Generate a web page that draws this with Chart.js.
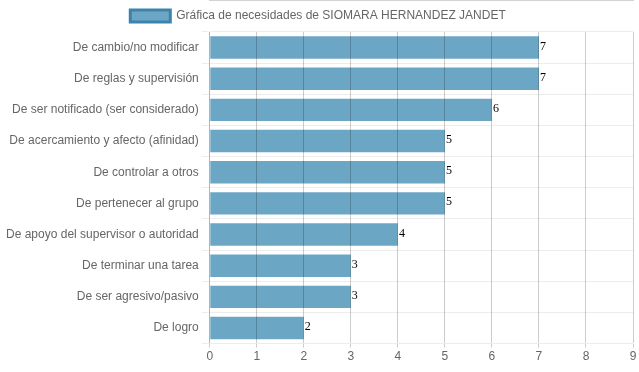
<!DOCTYPE html>
<html>
<head>
<meta charset="utf-8">
<script src="https://cdn.jsdelivr.net/npm/chart.js@4.4.0/dist/chart.umd.min.js"></script>
<style>
  html, body { margin: 0; padding: 0; background: #fff; }
  #wrap { width: 639px; height: 372px; }
</style>
</head>
<body>
<div id="wrap"><canvas id="needsChart" width="639" height="372"></canvas></div>
<script>
const categories = [
    'De cambio/no modificar',
    'De reglas y supervisión',
    'De ser notificado (ser considerado)',
    'De acercamiento y afecto (afinidad)',
    'De controlar a otros',
    'De pertenecer al grupo',
    'De apoyo del supervisor o autoridad',
    'De terminar una tarea',
    'De ser agresivo/pasivo',
    'De logro'
];
const needValues = [7, 7, 6, 5, 5, 5, 4, 3, 3, 2];
const seriesLabel = 'Gráfica de necesidades de SIOMARA HERNANDEZ JANDET';
const xTicks = [0, 1, 2, 3, 4, 5, 6, 7, 8, 9];

// draws the number at the end of each bar
const valueLabels = {
    id: 'valueLabels',
    afterDatasetsDraw: function(chart) {
        const ctx = chart.ctx;
        ctx.save();
        ctx.font = '12px "Liberation Serif", serif';
        ctx.fillStyle = '#000';
        ctx.textAlign = 'left';
        ctx.textBaseline = 'alphabetic';
        const meta = chart.getDatasetMeta(0);
        meta.data.forEach(function(bar, i) {
            ctx.fillText(chart.data.datasets[0].data[i], bar.x + 1, bar.y + 2);
        });
        ctx.restore();
    }
};

const ctx = document.getElementById('needsChart').getContext('2d');
const chart = new Chart(ctx, {
    type: 'bar',
    data: {
        labels: categories,
        datasets: [{
            label: seriesLabel,
            data: needValues,
            backgroundColor: 'rgb(108,166,197)',
            borderColor: 'rgb(60,130,170)',
            borderWidth: 0
        }]
    },
    options: {
        indexAxis: 'y',
        responsive: false,
        animation: false,
        layout: { padding: { left: 3, right: 6, top: 0, bottom: 6 } },
        scales: {
            x: {
                min: 0,
                max: 9,
                afterBuildTicks: function(axis) {
                    axis.ticks = xTicks.map(function(v) { return { value: v }; });
                },
                grid: { color: 'rgba(0,0,0,0.2)', z: 1, tickLength: 4 },
                border: { color: 'rgba(0,0,0,0.35)' },
                ticks: { color: '#666', font: { size: 12 }, padding: 2 }
            },
            y: {
                grid: { color: 'rgba(0,0,0,0.07)', offset: true, tickLength: 8 },
                border: { color: 'rgba(0,0,0,0.12)' },
                ticks: { color: '#666', font: { size: 12 } }
            }
        },
        plugins: {
            tooltip: { enabled: false },
            legend: {
                labels: {
                    color: '#666',
                    font: { size: 12 },
                    boxWidth: 40,
                    generateLabels: function(chart) {
                        const items = Chart.defaults.plugins.legend.labels.generateLabels(chart);
                        items.forEach(function(it) {
                            it.lineWidth = 3;
                            it.strokeStyle = 'rgb(60,130,170)';
                            it.fillStyle = 'rgb(108,166,197)';
                        });
                        return items;
                    }
                }
            }
        }
    },
    plugins: [valueLabels]
});
</script>
</body>
</html>
